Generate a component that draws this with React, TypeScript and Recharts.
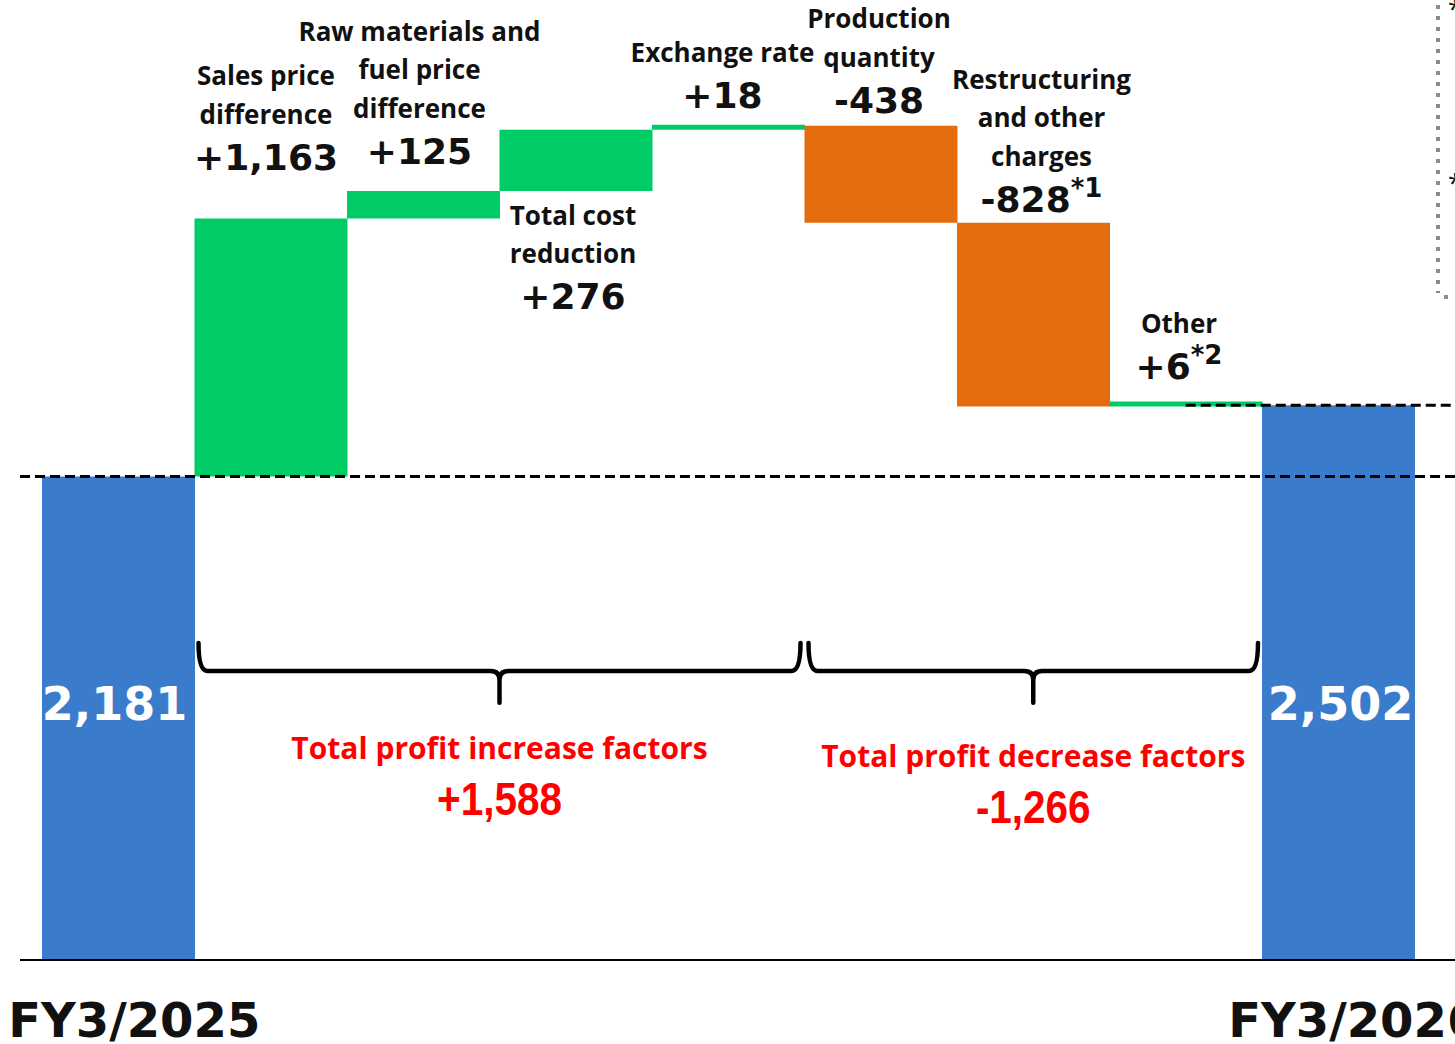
import React from 'react'
import { BarChart, Bar, XAxis, YAxis, Cell, LabelList, ReferenceLine, ReferenceArea } from 'recharts'

// Operating profit bridge, FY3/2025 -> FY3/2026 (100 million yen)
const STEP_KEYS = ['FY3/2025', 'sales', 'raw', 'cost', 'fx', 'volume', 'restructuring', 'other', 'FY3/2026']
const STEP_NAMES: string[][] = [
  [],
  ['Sales price', 'difference'],
  ['Raw materials and', 'fuel price', 'difference'],
  ['Total cost', 'reduction'],
  ['Exchange rate'],
  ['Production', 'quantity'],
  ['Restructuring', 'and other', 'charges'],
  ['Other'],
  [],
]
const STEP_VALUES = [2181, 1163, 125, 276, 18, -438, -828, 6, 2502]
const STEP_TYPES = ['total', 'delta', 'delta', 'delta', 'delta', 'delta', 'delta', 'delta', 'total']
const STEP_NOTES = ['', '', '', '', '', '', '*1', '*2', '']
const AXIS_LABELS = ['FY3/2025', 'FY3/2026']

const GROUP_TITLES = ['Total profit increase factors', 'Total profit decrease factors']
const GROUP_TOTALS = [1588, -1266]
const GROUP_FROM = ['sales', 'volume']
const GROUP_TO = ['fx', 'other']

// layout only
const LABEL_DX = [-4, -5, -4, -3, -6, -2, 8, -7, 2]
const LABEL_GAP = [0, 49, 27, 34, 17, 13, 11, 22, 0]
const LABEL_BELOW = [false, false, false, true, false, false, false, false, false]
const GROUP_TEXT_DY = [[56, 112], [64, 120]]
const BRACE_Y = [1160, 1430]
const Y_MAX = 4330

const COLORS = { total: '#3A7CCB', up: '#00CC66', down: '#E36C0E' }
const VALUE_FONT = '"DejaVu Sans", Verdana, sans-serif'
const NAME_FONT = '"Open Sans", "Noto Sans", sans-serif'
const LINE_H = 38.5
const VALUE_GAP = 46

const fmt = (v: number, signed: boolean) => (signed && v > 0 ? '+' : '') + v.toLocaleString('en-US')

type Row = { key: string; range: [number, number] | null; color: string }

const chartData: Row[] = (() => {
  let running = 0
  const rows: Row[] = STEP_KEYS.map((key, i) => {
    const v = STEP_VALUES[i]
    if (STEP_TYPES[i] === 'total') {
      running = v
      return { key, range: [0, v] as [number, number], color: COLORS.total }
    }
    const from = running
    running += v
    return {
      key,
      range: [Math.min(from, running), Math.max(from, running)] as [number, number],
      color: v >= 0 ? COLORS.up : COLORS.down,
    }
  })
  rows.push({ key: 'pad', range: null, color: 'none' })
  return rows
})()

const renderStepLabel = (props: any) => {
  const { x, y, width, height, index } = props
  if (index == null || index >= STEP_KEYS.length) return null
  const cx = Number(x) + Number(width) / 2 + LABEL_DX[index]
  const top = Number(y)
  const bottom = Number(y) + Number(height)
  const value = STEP_VALUES[index]

  if (STEP_TYPES[index] === 'total') {
    return (
      <text x={cx} y={bottom - 240} textAnchor="middle" fill="#fff" fontSize={46} fontWeight={700} fontFamily={VALUE_FONT}>
        {fmt(value, false)}
      </text>
    )
  }

  const names = STEP_NAMES[index]
  let firstBaseline: number
  if (LABEL_BELOW[index]) {
    firstBaseline = bottom + LABEL_GAP[index]
  } else {
    const valueBaseline = top - LABEL_GAP[index]
    firstBaseline = valueBaseline - VALUE_GAP - (names.length - 1) * LINE_H
  }
  const valueBaseline = firstBaseline + (names.length - 1) * LINE_H + VALUE_GAP

  return (
    <g>
      {names.map((line, i) => (
        <text
          key={line}
          x={cx}
          y={firstBaseline + i * LINE_H}
          textAnchor="middle"
          fill="#111"
          fontSize={26}
          fontWeight={700}
          fontFamily={NAME_FONT}
        >
          {line}
        </text>
      ))}
      <text x={cx} y={valueBaseline} textAnchor="middle" fill="#111" fontSize={36} fontWeight={700} fontFamily={VALUE_FONT}>
        {fmt(value, true)}
        {STEP_NOTES[index] ? (
          <tspan fontSize={26} dy={-15}>
            {STEP_NOTES[index]}
          </tspan>
        ) : null}
      </text>
    </g>
  )
}

const renderTick = (props: any) => {
  const { x, y, payload } = props
  if (!AXIS_LABELS.includes(payload.value)) return <g />
  return (
    <text x={x + 16} y={y + 77} textAnchor="middle" fill="#111" fontSize={48} fontWeight={700} fontFamily={VALUE_FONT}>
      {payload.value}
    </text>
  )
}

const makeBrace = (group: number) => (props: any) => {
  const x1 = Number(props.x) + 4
  const x2 = Number(props.x) + Number(props.width) - 4
  const top = Number(props.y)
  const tip = Number(props.y) + Number(props.height)
  const mid = top + 28
  const xm = (x1 + x2) / 2
  const r = 9
  const d = [
    `M ${x1} ${top}`,
    `Q ${x1} ${mid} ${x1 + r} ${mid}`,
    `L ${xm - r} ${mid}`,
    `Q ${xm} ${mid} ${xm} ${mid + r}`,
    `L ${xm} ${tip}`,
    `M ${xm} ${mid + r}`,
    `Q ${xm} ${mid} ${xm + r} ${mid}`,
    `L ${x2 - r} ${mid}`,
    `Q ${x2} ${mid} ${x2} ${top}`,
  ].join(' ')
  const [titleDy, totalDy] = GROUP_TEXT_DY[group]
  return (
    <g>
      <path d={d} fill="none" stroke="#000" strokeWidth={4.5} strokeLinecap="round" strokeLinejoin="round" />
      <text x={xm} y={tip + titleDy} textAnchor="middle" fill="#FF0000" fontSize={30} fontWeight={700} fontFamily={NAME_FONT}>
        {GROUP_TITLES[group]}
      </text>
      <text
        transform={`translate(${xm} ${tip + totalDy}) scale(0.88 1)`}
        textAnchor="middle"
        fill="#FF0000"
        fontSize={46}
        fontWeight={700}
        fontFamily='"Liberation Sans", Arial, sans-serif'
      >
        {fmt(GROUP_TOTALS[group], true)}
      </text>
    </g>
  )
}

export default function App() {
  return (
    <div
      style={{
        position: 'absolute',
        left: 0,
        top: 0,
        width: 1455,
        height: 1044,
        overflow: 'hidden',
        background: '#fff',
      }}
    >
      <BarChart
        width={1567}
        height={1044}
        data={chartData}
        margin={{ top: 0, right: 0, bottom: 0, left: 20 }}
        barCategoryGap={0}
        barGap={0}
      >
        <XAxis
          dataKey="key"
          interval={0}
          height={84}
          padding={{ left: 22, right: 0 }}
          tickLine={false}
          tickSize={0}
          tickMargin={0}
          axisLine={{ stroke: '#000', strokeWidth: 2 }}
          tick={renderTick}
        />
        <YAxis hide domain={[0, Y_MAX]} />
        <Bar dataKey="range" isAnimationActive={false} minPointSize={5}>
          {chartData.map((row) => (
            <Cell key={row.key} fill={row.color} />
          ))}
          <LabelList dataKey="range" content={renderStepLabel} />
        </Bar>
        <ReferenceLine y={STEP_VALUES[0]} stroke="#000" strokeWidth={3} strokeDasharray="10 5" />
        <ReferenceLine
          segment={[
            { x: 'other', y: STEP_VALUES[8] },
            { x: 'pad', y: STEP_VALUES[8] },
          ]}
          stroke="#000"
          strokeWidth={3}
          strokeDasharray="10 5"
        />
        {GROUP_TITLES.map((title, g) => (
          <ReferenceArea
            key={title}
            x1={GROUP_FROM[g]}
            x2={GROUP_TO[g]}
            y1={BRACE_Y[0]}
            y2={BRACE_Y[1]}
            shape={makeBrace(g)}
          />
        ))}
      </BarChart>
      <svg width={1455} height={1044} style={{ position: 'absolute', left: 0, top: 0, pointerEvents: 'none' }}>
        <path d="M 1438 -6 L 1438 293 M 1444 297 L 1460 297" stroke="#8A8A8A" strokeWidth={4} strokeDasharray="4 7" fill="none" />
        <text x={1448} y={18} fontSize={26} fontFamily={NAME_FONT} fill="#111">*</text>
        <text x={1448} y={192} fontSize={26} fontFamily={NAME_FONT} fill="#111">*</text>
      </svg>
    </div>
  )
}
